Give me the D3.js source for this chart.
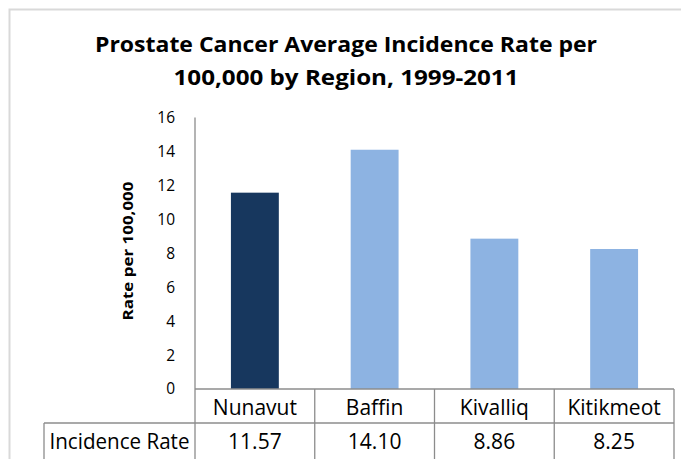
<!DOCTYPE html>
<html>
<head>
<meta charset="utf-8">
<script src="https://cdn.jsdelivr.net/npm/d3@7"></script>
<style>
  body { margin: 0; background: #fff; }
  svg { display: block; font-family: "Open Sans", sans-serif; }
</style>
</head>
<body>
<script>
const width = 681;
const height = 459;

const regions = ["Nunavut", "Baffin", "Kivalliq", "Kitikmeot"];
const rates = [11.57, 14.10, 8.86, 8.25];
const rateLabels = ["11.57", "14.10", "8.86", "8.25"];
const yTicks = [0, 2, 4, 6, 8, 10, 12, 14, 16];
const titleLines = ["Prostate Cancer Average Incidence Rate per", "100,000 by Region, 1999-2011"];
const rowLabel = "Incidence Rate";
const yLabel = "Rate per 100,000";

const plotLeft = 195;
const plotRight = 674;
const plotTop = 117.5;
const plotBottom = 389;
const rowLine = 423;
const tableLeft = 44;
const gridColor = "#8c8c8c";

const svg = d3.select("body")
  .append("svg")
  .attr("width", width)
  .attr("height", height);

// outer chart frame
svg.append("rect")
  .attr("x", 9.5)
  .attr("y", 9.5)
  .attr("width", 700)
  .attr("height", 480)
  .attr("fill", "none")
  .attr("stroke", "#d9d9d9")
  .attr("stroke-width", 2);

const x = d3.scaleBand()
  .domain(regions)
  .range([plotLeft, plotRight])
  .paddingInner(0.6)
  .paddingOuter(0.3);

const bands = d3.scaleBand()
  .domain(regions)
  .range([plotLeft, plotRight]);

const y = d3.scaleLinear()
  .domain([0, 16])
  .range([plotBottom, plotTop]);

// title
svg.append("g")
  .selectAll("text")
  .data(titleLines)
  .enter()
  .append("text")
  .attr("x", 346)
  .attr("y", (d, i) => 52 + i * 33)
  .attr("text-anchor", "middle")
  .style("font-size", "22px")
  .style("font-weight", "bold")
  .attr("textLength", (d, i) => (i === 0 ? 502 : 345))
  .attr("lengthAdjust", "spacingAndGlyphs")
  .text(d => d);

// y axis
const yAxis = svg.append("g")
  .attr("transform", `translate(${plotLeft},0)`)
  .call(d3.axisLeft(y).tickValues(yTicks).tickSize(0).tickPadding(20));
yAxis.select(".domain").remove();
yAxis.selectAll("text")
  .style("font-family", "'Open Sans', sans-serif")
  .style("font-size", "15.5px")
  .attr("fill", "#000");

svg.append("text")
  .attr("transform", `translate(133,251) rotate(-90)`)
  .attr("text-anchor", "middle")
  .style("font-size", "15px")
  .style("font-weight", "bold")
  .attr("textLength", 139)
  .attr("lengthAdjust", "spacingAndGlyphs")
  .text(yLabel);

// bars
svg.append("g")
  .selectAll("rect")
  .data(regions)
  .enter()
  .append("rect")
  .attr("x", d => x(d))
  .attr("y", (d, i) => y(rates[i]))
  .attr("width", x.bandwidth())
  .attr("height", (d, i) => y(0) - y(rates[i]))
  .attr("fill", (d, i) => (i === 0 ? "#17375e" : "#8db3e2"));

// data table grid
const grid = svg.append("g")
  .attr("stroke", gridColor)
  .attr("stroke-width", 1.3);

grid.append("line")
  .attr("x1", plotLeft).attr("x2", plotLeft)
  .attr("y1", plotTop).attr("y2", height + 2);

grid.append("line")
  .attr("x1", plotLeft).attr("x2", plotRight)
  .attr("y1", plotBottom).attr("y2", plotBottom);

grid.append("line")
  .attr("x1", tableLeft).attr("x2", plotRight)
  .attr("y1", rowLine).attr("y2", rowLine);

grid.append("line")
  .attr("x1", tableLeft).attr("x2", tableLeft)
  .attr("y1", rowLine).attr("y2", height + 2);

grid.selectAll(".col-line")
  .data(regions)
  .enter()
  .append("line")
  .attr("class", "col-line")
  .attr("x1", d => bands(d) + bands.bandwidth())
  .attr("x2", d => bands(d) + bands.bandwidth())
  .attr("y1", plotBottom)
  .attr("y2", height + 2);

// table text
svg.append("g")
  .selectAll("text")
  .data(regions)
  .enter()
  .append("text")
  .attr("x", d => bands(d) + bands.bandwidth() / 2)
  .attr("y", 415)
  .attr("text-anchor", "middle")
  .style("font-size", "21px")
  .text(d => d);

svg.append("g")
  .selectAll("text")
  .data(rateLabels)
  .enter()
  .append("text")
  .attr("x", (d, i) => bands(regions[i]) + bands.bandwidth() / 2)
  .attr("y", 449)
  .attr("text-anchor", "middle")
  .style("font-size", "21px")
  .text(d => d);

svg.append("text")
  .attr("x", (tableLeft + plotLeft) / 2)
  .attr("y", 449)
  .attr("text-anchor", "middle")
  .style("font-size", "21px")
  .attr("textLength", 140)
  .attr("lengthAdjust", "spacingAndGlyphs")
  .text(rowLabel);
</script>
</body>
</html>
